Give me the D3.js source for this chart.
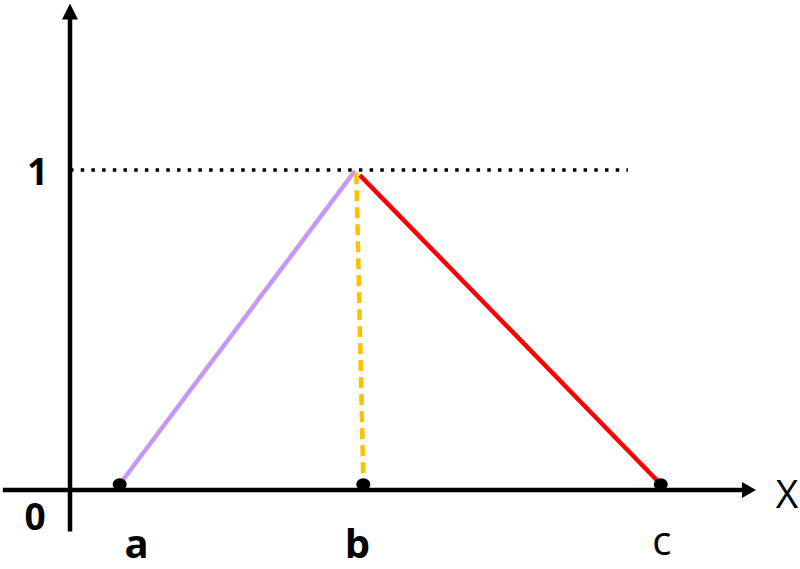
<!DOCTYPE html>
<html><head><meta charset="utf-8">
<script src="https://cdn.jsdelivr.net/npm/d3@7"></script>
<style>html,body{margin:0;padding:0;background:#fff;}svg{display:block;}</style>
</head><body>
<svg id="c" width="800" height="569"></svg>
<script>
// data (x in units 0..10, y membership 0..1)
const pointNames = ["a", "b", "c"];
const pointX = [0.71, 4.19, 8.44];
const pointY = [0.018, 0.018, 0.018];
const riseX = [0.71, 4.07];
const riseY = [0.018, 0.997];
const fallX = [4.14, 8.44];
const fallY = [0.984, 0.018];
const dropX = [4.09, 4.19];
const dropY = [0.99, 0.035];
const levelX = [0, 7.97];
const levelY = [1, 1];
const yTickLabels = ["0", "1"];
const yTickValues = [0, 1];

const svg = d3.select("#c");
const x = d3.scaleLinear().domain([0, 10]).range([70, 770]);
const y = d3.scaleLinear().domain([0, 1]).range([490, 170]);
const font = "'Open Sans', 'Noto Sans', sans-serif";

const line = d3.line().x(d => x(d[0])).y(d => y(d[1]));
const zip = (a, b) => a.map((v, i) => [v, b[i]]);

// axes
svg.append("line").attr("x1", x(-0.96)).attr("x2", x(9.6)).attr("y1", y(0)).attr("y2", y(0))
  .attr("stroke", "#000").attr("stroke-width", 4.5);
svg.append("path").attr("d", `M${x(9.8)},${y(0)} L${x(9.6)},${y(0) - 8} L${x(9.6)},${y(0) + 8} Z`).attr("fill", "#000");
svg.append("line").attr("x1", x(0)).attr("x2", x(0)).attr("y1", y(-0.13)).attr("y2", y(1.48))
  .attr("stroke", "#000").attr("stroke-width", 4.5);
svg.append("path").attr("d", `M${x(0)},${y(1.52)} L${x(0) - 8},${y(1.47)} L${x(0) + 8},${y(1.47)} Z`).attr("fill", "#000");

// dotted level line
svg.append("path").attr("d", line(zip(levelX, levelY))).attr("fill", "none")
  .attr("stroke", "#000").attr("stroke-width", 3.5).attr("stroke-dasharray", "3.5 7.2");

// triangle sides
svg.append("path").attr("d", line(zip(riseX, riseY))).attr("fill", "none")
  .attr("stroke", "#c597f7").attr("stroke-width", 4.5);
svg.append("path").attr("d", line(zip(fallX, fallY))).attr("fill", "none")
  .attr("stroke", "#ff0000").attr("stroke-width", 4.5);
svg.append("path").attr("d", line(zip(dropX, dropY))).attr("fill", "none")
  .attr("stroke", "#ffc000").attr("stroke-width", 4.5).attr("stroke-dasharray", "11 6");

// points
svg.selectAll("ellipse.pt").data(pointX).enter().append("ellipse")
  .attr("cx", (d) => x(d)).attr("cy", (d, i) => y(pointY[i])).attr("rx", 7).attr("ry", 6).attr("fill", "#000");

// point labels
const labelDx = [17, -6, 1];
const labelBase = [558, 558, 555];
svg.selectAll("text.pl").data(pointNames).enter().append("text")
  .attr("x", (d, i) => x(pointX[i]) + labelDx[i]).attr("y", (d, i) => labelBase[i])
  .attr("text-anchor", "middle").attr("font-family", font)
  .attr("font-weight", (d, i) => i === 2 ? 400 : 700).attr("font-size", 40)
  .text(d => d);

// y tick labels
svg.selectAll("text.yl").data(yTickLabels).enter().append("text")
  .attr("x", (d, i) => yTickValues[i] === 0 ? 35 : 37.5)
  .attr("y", (d, i) => yTickValues[i] === 0 ? 530 : y(yTickValues[i]) + 15)
  .attr("text-anchor", "middle").attr("font-family", font).attr("font-weight", 700).attr("font-size", 37)
  .text(d => d);

// axis name
svg.append("text").attr("x", 787).attr("y", 508).attr("text-anchor", "middle")
  .attr("font-family", font).attr("font-size", 39).text("X");
</script>
</body></html>
